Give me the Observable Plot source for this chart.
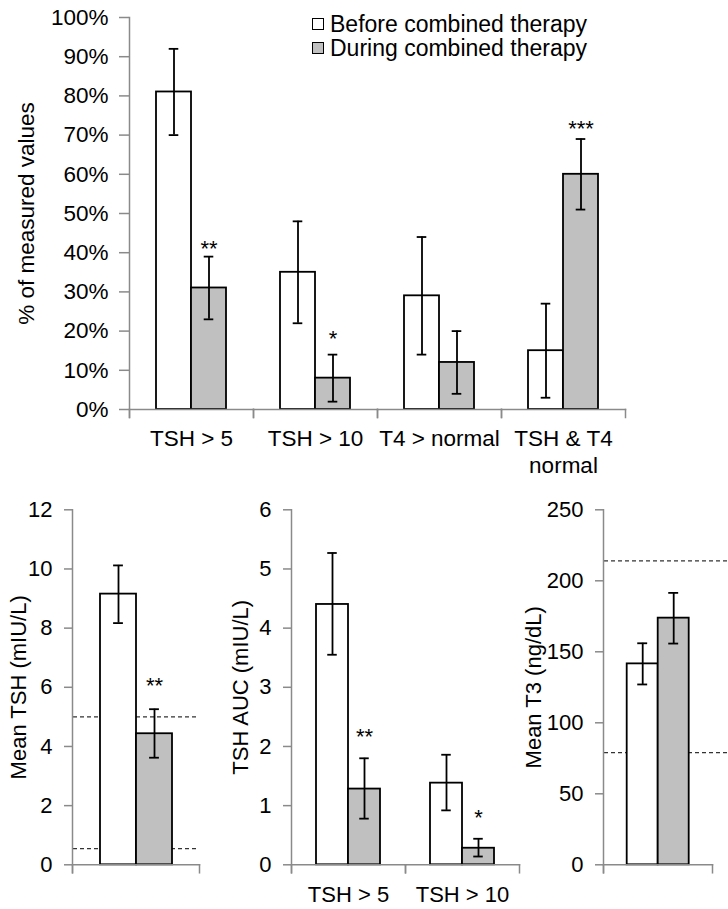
<!DOCTYPE html>
<html>
<head>
<meta charset="utf-8">
<script src="https://cdn.jsdelivr.net/npm/d3@7"></script>
<script src="https://cdn.jsdelivr.net/npm/@observablehq/plot@0.6"></script>
<style>
  body { margin: 0; background: #fff; }
  #root { position: relative; width: 728px; height: 909px; background: #fff; font-family: "Liberation Sans", Arial, sans-serif; }
  .panel { position: absolute; }
  .legend { position: absolute; left: 312px; top: 12px; font-size: 23px; line-height: 24px; color: #000; }
  .legend div { display: flex; align-items: center; white-space: nowrap; }
  .legend span.sw { display: inline-block; width: 10px; height: 10px; border: 1px solid #000; margin-right: 6px; }
</style>
</head>
<body>
<div id="root"></div>
<script>
// ---------- Data ----------
const seriesNames = ["Before combined therapy", "During combined therapy"];
const seriesKeys = ["Before", "During"];
const seriesColors = ["#ffffff", "#c0c0c0"];

// Top panel: % of measured values
const topCategories = ["TSH > 5", "TSH > 10", "T4 > normal", "TSH & T4\nnormal"];
const topBefore = [81, 35, 29, 15];
const topBeforeLow = [70, 22, 14, 3];
const topBeforeHigh = [92, 48, 44, 27];
const topDuring = [31, 8, 12, 60];
const topDuringLow = [23, 2, 4, 51];
const topDuringHigh = [39, 14, 20, 69];
const topSignif = ["**", "*", "", "***"];
const topSignifAt = [42.5, 19.5, null, 73];
const topTicks = [0, 10, 20, 30, 40, 50, 60, 70, 80, 90, 100];

// Mean TSH
const tshCategories = ["Mean TSH"];
const tshBefore = [9.15];
const tshBeforeLow = [8.17];
const tshBeforeHigh = [10.12];
const tshDuring = [4.43];
const tshDuringLow = [3.62];
const tshDuringHigh = [5.26];
const tshSignif = ["**"];
const tshSignifAt = [6.25];
const tshReference = [5, 0.55];
const tshTicks = [0, 2, 4, 6, 8, 10, 12];

// TSH AUC
const aucCategories = ["TSH > 5", "TSH > 10"];
const aucBefore = [4.40, 1.38];
const aucBeforeLow = [3.55, 0.92];
const aucBeforeHigh = [5.27, 1.86];
const aucDuring = [1.28, 0.28];
const aucDuringLow = [0.78, 0.14];
const aucDuringHigh = [1.80, 0.44];
const aucSignif = ["**", "*"];
const aucSignifAt = [2.27, 0.89];
const aucTicks = [0, 1, 2, 3, 4, 5, 6];

// Mean T3
const t3Categories = ["Mean T3"];
const t3Before = [141.5];
const t3BeforeLow = [127];
const t3BeforeHigh = [156];
const t3During = [173.7];
const t3DuringLow = [155.8];
const t3DuringHigh = [191.5];
const t3Signif = [""];
const t3SignifAt = [null];
const t3Reference = [214, 79];
const t3Ticks = [0, 50, 100, 150, 200, 250];

// ---------- Helpers ----------
const AXIS = "#8a8a8a";
const FONT = "'Liberation Sans', Arial, sans-serif";
const PAD_OUTER = 0.754;

function rowsOf(cats, b, bl, bh, d, dl, dh, sig, sigAt) {
  const rows = [];
  cats.forEach((c, i) => {
    rows.push({cat: c, series: seriesKeys[0], value: b[i], lo: bl[i], hi: bh[i], sig: "", sigAt: null});
    rows.push({cat: c, series: seriesKeys[1], value: d[i], lo: dl[i], hi: dh[i], sig: sig[i], sigAt: sigAt[i]});
  });
  return rows;
}

function panel(o) {
  const {cats, rows, yDomain, yTicks, yFormat, yLabel, labelOffset, refs, width, height,
         mt, mr, mb, ml, tickSize, tickPadding, catLabels, catPadding, refExtend, fontSize} = o;
  const innerH = height - mt - mb;
  const facetW = (width - ml - mr) / cats.length;
  const barW = facetW / (2 + 2 * PAD_OUTER);
  const capInset = Math.max(0, (barW - 10) / 2);
  const marks = [];
  if (refs) marks.push(Plot.ruleY(refs, {stroke: "#333", strokeWidth: 1.2, strokeDasharray: "4,3", insetRight: -(refExtend || 0), insetLeft: 1}));
  marks.push(
    Plot.barY(rows, {fx: "cat", x: "series", y: "value", fill: "series", stroke: "#000", strokeWidth: 1.8}),
    Plot.frame({anchor: "bottom", stroke: AXIS, strokeWidth: 1.5}),
    Plot.ruleX(rows, {fx: "cat", x: "series", y1: "lo", y2: "hi", stroke: "#000", strokeWidth: 1.8}),
    Plot.tickY(rows, {fx: "cat", x: "series", y: "lo", stroke: "#000", strokeWidth: 1.8, insetLeft: capInset, insetRight: capInset}),
    Plot.tickY(rows, {fx: "cat", x: "series", y: "hi", stroke: "#000", strokeWidth: 1.8, insetLeft: capInset, insetRight: capInset}),
    Plot.text(rows.filter(r => r.sig), {fx: "cat", x: "series", y: "sigAt", text: "sig", lineAnchor: "middle", dy: 6, fontSize: 22, fill: "#000"}),
    Plot.frame({anchor: "left", insetTop: innerH, insetBottom: -8, stroke: AXIS, strokeWidth: 1.5}),
    Plot.frame({anchor: "right", insetTop: innerH, insetBottom: -8, stroke: AXIS, strokeWidth: 1.5}),
    Plot.frame({anchor: "left", facetAnchor: "left", insetBottom: -8, stroke: AXIS, strokeWidth: 1.5}),
    Plot.axisY({ticks: yTicks, tickFormat: yFormat, tickSize, tickPadding, stroke: AXIS, strokeWidth: 1.5, fill: "#000",
      label: yLabel, labelAnchor: "center", labelOffset, labelArrow: "none"})
  );
  if (catLabels) marks.push(Plot.axisFx({anchor: "bottom", tickSize: 0, tickPadding: catPadding, label: null, fill: "#000", lineHeight: 1.2}));
  return Plot.plot({
    width, height, marginTop: mt, marginRight: mr, marginBottom: mb, marginLeft: ml,
    style: {fontFamily: FONT, fontSize: fontSize + "px", color: "#000", background: "transparent", overflow: "visible"},
    fx: {domain: cats, padding: 0, axis: null, label: null},
    x: {domain: seriesKeys, paddingInner: 0, paddingOuter: PAD_OUTER, axis: null},
    y: {domain: yDomain, axis: null},
    color: {domain: seriesKeys, range: seriesColors},
    marks
  });
}

function place(el, left, top) {
  const wrap = document.createElement("div");
  wrap.className = "panel";
  wrap.style.left = left + "px";
  wrap.style.top = top + "px";
  wrap.appendChild(el);
  document.getElementById("root").appendChild(wrap);
}

// ---------- Panels ----------
place(panel({
  cats: topCategories,
  rows: rowsOf(topCategories, topBefore, topBeforeLow, topBeforeHigh, topDuring, topDuringLow, topDuringHigh, topSignif, topSignifAt),
  yDomain: [0, 100], yTicks: topTicks, yFormat: d => d + "%", yLabel: "% of measured values", labelOffset: 111,
  width: 728, height: 480, mt: 17, mr: 103, mb: 71, ml: 128, tickSize: 10, tickPadding: 11,
  catLabels: true, catPadding: 17, fontSize: 22.5
}), 0, 0);

place(panel({
  cats: tshCategories,
  rows: rowsOf(tshCategories, tshBefore, tshBeforeLow, tshBeforeHigh, tshDuring, tshDuringLow, tshDuringHigh, tshSignif, tshSignifAt),
  yDomain: [0, 12], yTicks: tshTicks, yFormat: d => String(d), yLabel: "Mean TSH (mIU/L)", labelOffset: 62,
  refs: tshReference, refExtend: 0,
  width: 220, height: 429, mt: 29.3, mr: 21, mb: 44.7, ml: 72, tickSize: 8, tickPadding: 12,
  catLabels: false, fontSize: 22
}), 0, 480);

place(panel({
  cats: aucCategories,
  rows: rowsOf(aucCategories, aucBefore, aucBeforeLow, aucBeforeHigh, aucDuring, aucDuringLow, aucDuringHigh, aucSignif, aucSignifAt),
  yDomain: [0, 6], yTicks: aucTicks, yFormat: d => String(d), yLabel: "TSH AUC (mIU/L)", labelOffset: 59,
  width: 320, height: 429, mt: 29.3, mr: 21, mb: 44.7, ml: 71, tickSize: 8, tickPadding: 12,
  catLabels: true, catPadding: 18, fontSize: 22
}), 220, 480);

place(panel({
  cats: t3Categories,
  rows: rowsOf(t3Categories, t3Before, t3BeforeLow, t3BeforeHigh, t3During, t3DuringLow, t3DuringHigh, t3Signif, t3SignifAt),
  yDomain: [0, 250], yTicks: t3Ticks, yFormat: d => String(d), yLabel: "Mean T3 (ng/dL)", labelOffset: 78,
  refs: t3Reference, refExtend: 15.7,
  width: 188, height: 429, mt: 29.3, mr: 15.7, mb: 44.7, ml: 63.3, tickSize: 8, tickPadding: 12,
  catLabels: false, fontSize: 22
}), 540, 480);

// ---------- Legend ----------
const legend = document.createElement("div");
legend.className = "legend";
seriesNames.forEach((name, i) => {
  const row = document.createElement("div");
  const sw = document.createElement("span");
  sw.className = "sw";
  sw.style.background = seriesColors[i];
  row.appendChild(sw);
  row.appendChild(document.createTextNode(name));
  legend.appendChild(row);
});
document.getElementById("root").appendChild(legend);
</script>
</body>
</html>
